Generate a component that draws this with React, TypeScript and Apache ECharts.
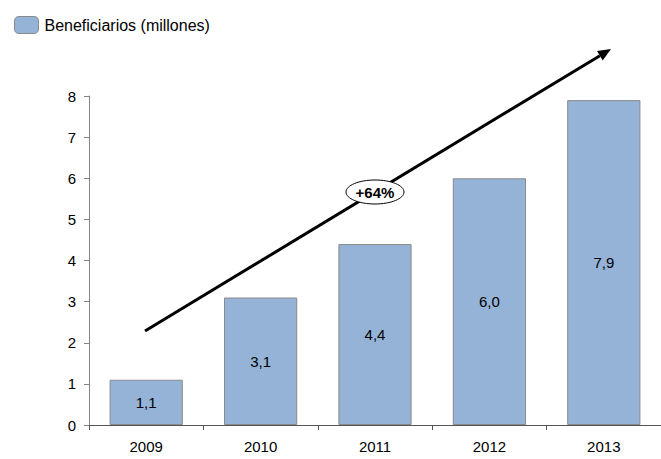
import React, { useEffect, useRef } from "react";
import * as echarts from "echarts";

const categories = ["2009", "2010", "2011", "2012", "2013"];
const beneficiarios = [1.1, 3.1, 4.4, 6.0, 7.9];
const seriesName = "Beneficiarios (millones)";
const growthLabel = "+64%";

const FONT = "'Liberation Sans', Arial, sans-serif";

export default function App() {
  const ref = useRef<HTMLDivElement>(null);
  useEffect(() => {
    if (!ref.current) return;
    const chart = echarts.init(ref.current, null, { renderer: "svg" });
    // arrow geometry
    const x1 = 145, y1 = 331, tx = 611, ty = 49;
    const dx = tx - x1, dy = ty - y1;
    const len = Math.sqrt(dx * dx + dy * dy);
    const ux = dx / len, uy = dy / len;
    const nx = -uy, ny = ux;
    const hl = 13, hw = 5.5;
    const bx = tx - hl * ux, by = ty - hl * uy;
    chart.setOption({
      animation: false,
      textStyle: { fontFamily: FONT },
      legend: {
        left: 9,
        top: 11,
        itemWidth: 24,
        itemHeight: 17,
        itemGap: 8,
        textStyle: { fontSize: 16, color: "#000", fontFamily: FONT, padding: [0, 0, 0, 1] },
        data: [{ name: seriesName, itemStyle: { color: "#95B3D7", borderColor: "#8a8a8a", borderWidth: 1 } }],
      },
      grid: { left: 89, top: 96, width: 580, bottom: 34, containLabel: false },
      xAxis: {
        type: "category",
        data: categories,
        axisLine: { show: true, lineStyle: { color: "#555", width: 1 } },
        axisTick: { show: true, length: 5, lineStyle: { color: "#555" } },
        axisLabel: { fontSize: 15, color: "#000", margin: 14, fontFamily: FONT },
        splitLine: { show: false },
      },
      yAxis: {
        type: "value",
        min: 0,
        max: 8,
        interval: 1,
        axisLine: { show: true, lineStyle: { color: "#868686", width: 1 } },
        axisTick: { show: true, length: 5, lineStyle: { color: "#868686" } },
        axisLabel: { fontSize: 15, color: "#000", margin: 13, fontFamily: FONT },
        splitLine: { show: false },
      },
      series: [
        {
          name: seriesName,
          type: "bar",
          data: beneficiarios,
          barWidth: "64%",
          itemStyle: { color: "#95B3D7", borderColor: "#8a8a8a", borderWidth: 1 },
          label: {
            show: true,
            position: "inside",
            fontSize: 15,
            color: "#000",
            fontFamily: FONT,
            formatter: (p: any) => p.value.toFixed(1).replace(".", ","),
          },
        },
      ],
      graphic: [
        {
          type: "line",
          shape: { x1, y1, x2: bx, y2: by },
          style: { stroke: "#000", lineWidth: 3 },
          z: 10,
        },
        {
          type: "polygon",
          shape: {
            points: [
              [tx, ty],
              [bx + hw * nx, by + hw * ny],
              [bx - hw * nx, by - hw * ny],
            ],
          },
          style: { fill: "#000" },
          z: 10,
        },
        {
          type: "ellipse",
          shape: { cx: 375, cy: 192, rx: 29, ry: 12 },
          style: { fill: "#fff", stroke: "#000", lineWidth: 1 },
          z: 11,
        },
        {
          type: "text",
          x: 375,
          y: 192,
          style: {
            text: growthLabel,
            font: "bold 15px " + FONT,
            fill: "#000",
            align: "center",
            verticalAlign: "middle",
          },
          z: 12,
        },
      ],
    });
    return () => chart.dispose();
  }, []);
  return <div ref={ref} style={{ width: 661, height: 459, position: "absolute", left: 0, top: 0 }} />;
}
